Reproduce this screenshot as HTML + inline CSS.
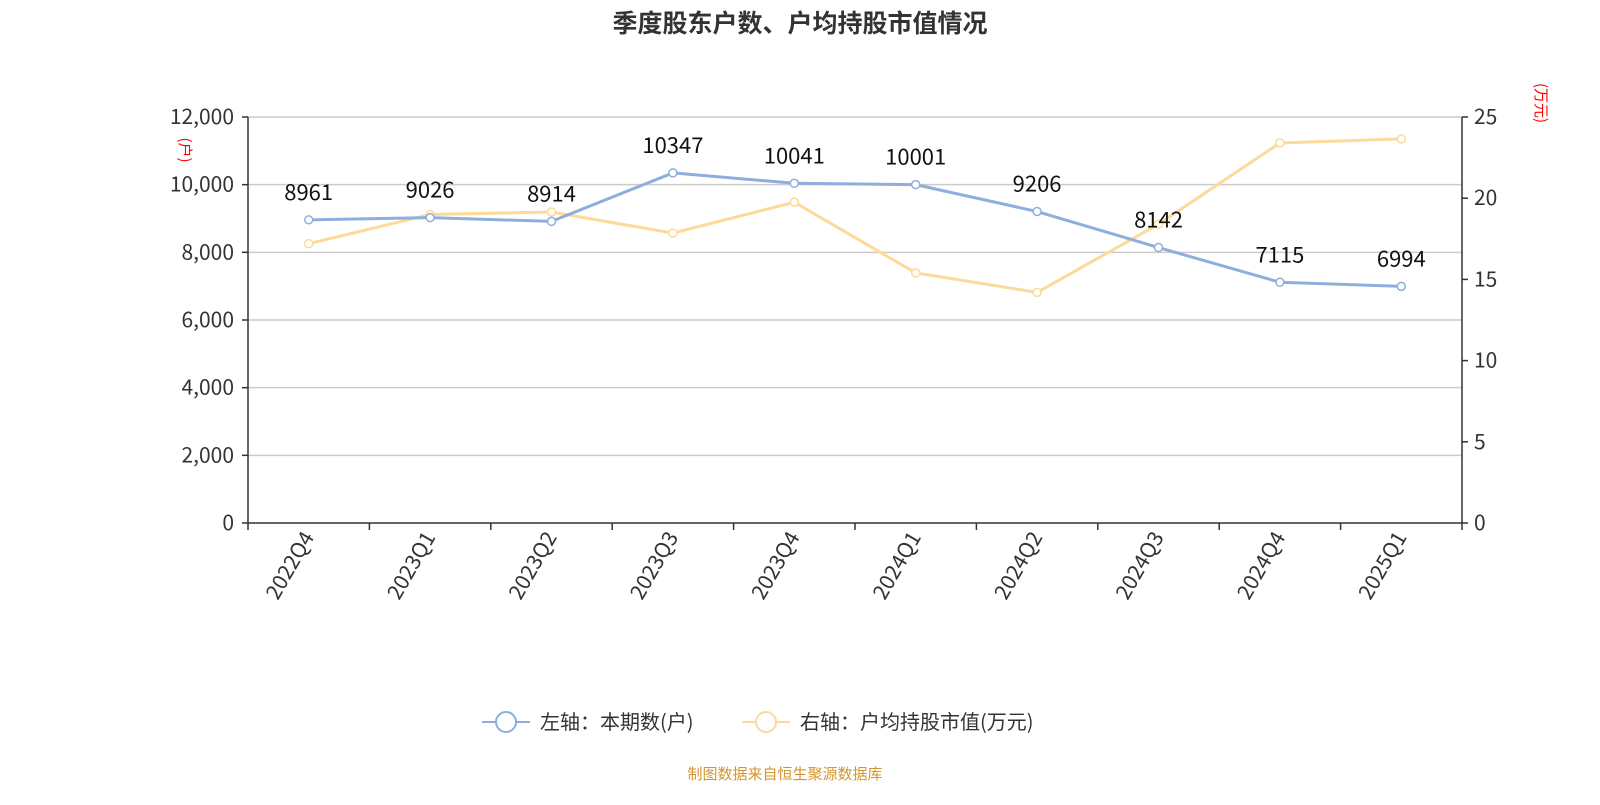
<!DOCTYPE html>
<html><head><meta charset="utf-8"><style>
body{margin:0;background:#fff;width:1600px;height:800px;overflow:hidden;font-family:"Noto Sans CJK SC","Liberation Sans",sans-serif}
</style></head><body>
<svg id="c" width="1600" height="800" font-family="Noto Sans CJK SC, Liberation Sans, sans-serif">
<text x="800" y="32" text-anchor="middle" font-size="25" font-weight="bold" fill="#333">季度股东户数、户均持股市值情况</text>
<text transform="translate(180,150) rotate(90)" text-anchor="middle" font-size="15" fill="red">(户)</text>
<text transform="translate(1536,103) rotate(90)" text-anchor="middle" font-size="15" fill="red">(万元)</text>
<g id="legend">
<g>
<line x1="482" y1="722" x2="530" y2="722" stroke="#8eaedc" stroke-width="2"/><circle cx="506" cy="722" r="10" fill="#fff" stroke="#8eaedc" stroke-width="2"/>
<text x="540" y="729" font-size="20" fill="#333">左轴：本期数(户)</text></g>
<g>
<line x1="742" y1="722" x2="790" y2="722" stroke="#fdd99a" stroke-width="2"/><circle cx="766" cy="722" r="10" fill="#fff" stroke="#fdd99a" stroke-width="2"/>
<text x="800" y="729" font-size="20" fill="#333">右轴：户均持股市值(万元)</text></g>
</g>
<text x="785" y="779" text-anchor="middle" font-size="15" fill="#d4952b">制图数据来自恒生聚源数据库</text>
</svg>
<script>
const categories=["2022Q4","2023Q1","2023Q2","2023Q3","2023Q4","2024Q1","2024Q2","2024Q3","2024Q4","2025Q1"];
const holders=[8961,9026,8914,10347,10041,10001,9206,8142,7115,6994];
const avgValue=[17.2,19.0,19.15,17.85,19.75,15.4,14.2,18.4,23.4,23.65];
const leftTicks=[0,2000,4000,6000,8000,10000,12000];
const rightTicks=[0,5,10,15,20,25];
const svg=document.getElementById('c');const NS="http://www.w3.org/2000/svg";
const X0=248,X1=1462,Y0=523,Y1=117;
const bw=(X1-X0)/categories.length;
const xs=i=>X0+bw*(i+0.5);
const yl=v=>Y0-(v/12000)*(Y0-Y1);
const yr=v=>Y0-(v/25)*(Y0-Y1);
function mk(t,a,p){const e=document.createElementNS(NS,t);for(const k in a)e.setAttribute(k,a[k]);(p||svg).appendChild(e);return e;}
leftTicks.forEach(v=>{const y=yl(v);
 if(v>0){const g=mk('line',{x1:X0,x2:X1,y1:y,y2:y,stroke:'#ccc','stroke-width':1.5});
 
 }
 mk('line',{x1:X0-6,x2:X0,y1:y,y2:y,stroke:'#333','stroke-width':1.5});
 const t=mk('text',{x:X0-14,y:y+7,'text-anchor':'end','font-size':21,fill:'#333'});t.textContent=v.toLocaleString('en-US');
 
 });
rightTicks.forEach(v=>{const y=yr(v);
 mk('line',{x1:X1,x2:X1+6,y1:y,y2:y,stroke:'#333','stroke-width':1.5});
 const t=mk('text',{x:X1+12,y:y+7,'font-size':21,fill:'#333'});t.textContent=v;
 
 });
mk('line',{x1:X0,x2:X0,y1:Y1,y2:Y0,stroke:'#333','stroke-width':1.5});
mk('line',{x1:X1,x2:X1,y1:Y1,y2:Y0,stroke:'#333','stroke-width':1.5});
mk('line',{x1:X0,x2:X1,y1:Y0,y2:Y0,stroke:'#333','stroke-width':1.5});
categories.forEach((c,i)=>{
 const xt=X0+bw*i;mk('line',{x1:xt,x2:xt,y1:Y0,y2:Y0+7,stroke:'#333','stroke-width':1.5});
 const x=xs(i);const t=mk('text',{transform:`translate(${x+6},${Y0+14}) rotate(-60)`,'text-anchor':'end','font-size':21,fill:'#333'});t.textContent=c;
 
 });
mk('line',{x1:X1,x2:X1,y1:Y0,y2:Y0+7,stroke:'#333','stroke-width':1.5});
function series(vals,fy,col,name,labels){
 const p=mk('polyline',{points:vals.map((v,i)=>xs(i)+','+fy(v)).join(' '),fill:'none',stroke:col,'stroke-width':3});
 
 
 vals.forEach((v,i)=>{const c=mk('circle',{cx:xs(i),cy:fy(v),r:4,fill:'#fff',stroke:col,'stroke-width':1.5});
  
  
  if(labels){const t=mk('text',{x:xs(i),y:fy(v)-20,'text-anchor':'middle','font-size':22,fill:'#111'});t.textContent=v;
  
  }});}
series(avgValue,yr,'#fdd99a','avg-value',false);
series(holders,yl,'#8eaedc','holders',true);
svg.appendChild(document.getElementById('legend'));
</script>
</body></html>
